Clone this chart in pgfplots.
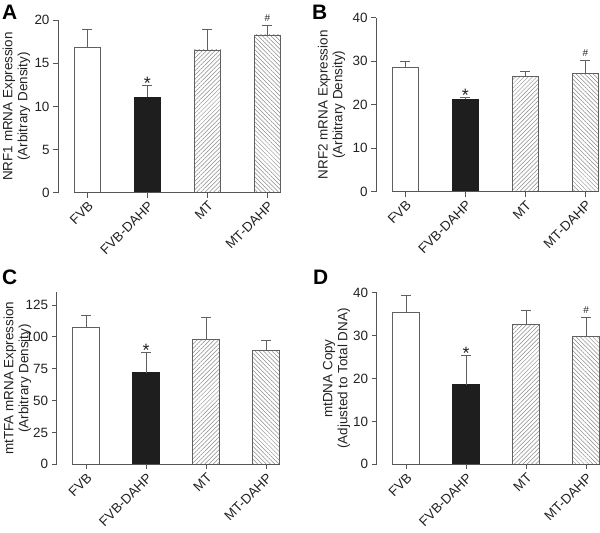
\documentclass[border=0pt]{standalone}
\usepackage{fontspec}
\setmainfont{Liberation Sans}
\usepackage{pgfplots}
\pgfplotsset{compat=1.18}
\usetikzlibrary{patterns.meta}

\definecolor{axgray}{HTML}{555555}
\definecolor{bargray}{HTML}{606060}
\definecolor{hatch}{HTML}{8A8A8A}
\definecolor{txt}{HTML}{222222}
\definecolor{barblack}{HTML}{1E1E1E}

\tikzset{
  whitebar/.style={fill=white, draw=bargray, line width=0.8bp},
  blackbar/.style={fill=barblack, draw=barblack, line width=0.8bp},
  nebar/.style={draw=bargray, line width=0.8bp, pattern={Lines[angle=45,distance=3bp,line width=0.5bp]}, pattern color=hatch},
  nwbar/.style={draw=bargray, line width=0.8bp, pattern={Lines[angle=-45,distance=3bp,line width=0.5bp]}, pattern color=hatch},
  star/.style={font=\fontsize{18}{18}\selectfont, text=txt, anchor=base, yshift=-4.5bp, inner sep=0pt},
  hash/.style={font=\fontsize{10}{10}\selectfont, text=txt, anchor=base, yshift=4bp, inner sep=0pt},
}

\pgfplotsset{
  panel/.style={
    scale only axis,
    axis x line*=bottom, axis y line*=left,
    x axis line style={draw=none},
    y axis line style={axgray, line width=0.8bp},
    tick style={axgray, line width=0.8bp},
    tick align=outside,
    major tick length=5bp,
    xtick={0,1,2,3},
    xticklabels={FVB,FVB-DAHP,MT,MT-DAHP},
    x tick label style={rotate=45, anchor=north east, inner sep=2bp},
    tick label style={font=\fontsize{13.5}{15}\selectfont, text=txt},
    /pgf/number format/assume math mode=true,
    ymin=0, xmax=3.2225,
    ybar, bar width=26.7bp, bar shift=0pt,
    ylabel style={font=\fontsize{13.5}{15}\selectfont, text=txt, align=center, anchor=center},
    error bars/y dir=plus, error bars/y explicit,
    error bars/error bar style={bargray, line width=0.8bp},
    error bars/error mark options={bargray, line width=0.8bp, mark size=5bp, rotate=90},
    clip=false,
  },
}

\begin{document}
\begin{tikzpicture}
\useasboundingbox (0,0) rectangle (600bp,-533bp);

% Panel letters
\node[anchor=north west, inner sep=0pt, font=\fontsize{21}{21}\selectfont\bfseries] at (2bp,-5bp) {A};
\node[anchor=north west, inner sep=0pt, font=\fontsize{21}{21}\selectfont\bfseries] at (312bp,-5bp) {B};
\node[anchor=north west, inner sep=0pt, font=\fontsize{21}{21}\selectfont\bfseries] at (2bp,-270bp) {C};
\node[anchor=north west, inner sep=0pt, font=\fontsize{21}{21}\selectfont\bfseries] at (313bp,-270bp) {D};

% Panel A
\begin{axis}[panel, at={(58bp,-192.5bp)}, anchor=south west,
  width=222.8bp, height=172.2bp, xmin=-0.4905, ymax=20, ytick={0,5,10,15,20},
  ylabel={NRF1 mRNA Expression\\(Arbitrary Density)},
  ylabel style={at={(axis description cs:-0.1863,0.5)}}]
\addplot[whitebar] coordinates {(0,16.8) +- (0,2.15)};
\addplot[blackbar] coordinates {(1,11.1) +- (0,1.35)};
\addplot[nebar] coordinates {(2,16.56) +- (0,2.4)};
\addplot[nwbar] coordinates {(3,18.3) +- (0,1.05)};
\draw[axgray, line width=0.8bp] (axis cs:-0.2225,0) -- (axis cs:3.2225,0);
\node[star] at (axis cs:1,12.45) {*};
\node[hash] at (axis cs:3,19.35) {\#};
\end{axis}

% Panel B
\begin{axis}[panel, at={(376bp,-191.7bp)}, anchor=south west,
  width=222.8bp, height=174bp, xmin=-0.4905, ymax=40, ytick={0,10,20,30,40},
  ylabel={NRF2 mRNA Expression\\(Arbitrary Density)},
  ylabel style={at={(axis description cs:-0.1997,0.5)}}]
\addplot[whitebar] coordinates {(0,28.6) +- (0,1.3)};
\addplot[blackbar] coordinates {(1,21.2) +- (0,0.5)};
\addplot[nebar] coordinates {(2,26.5) +- (0,1.2)};
\addplot[nwbar] coordinates {(3,27.2) +- (0,3.0)};
\draw[axgray, line width=0.8bp] (axis cs:-0.2225,0) -- (axis cs:3.2225,0);
\node[star] at (axis cs:1,21.7) {*};
\node[hash] at (axis cs:3,30.2) {\#};
\end{axis}

% Panel C
\begin{axis}[panel, at={(56.7bp,-464.3bp)}, anchor=south west,
  width=222.8bp, height=172bp, xmin=-0.4905, ymax=135, ytick={0,25,50,75,100,125},
  ylabel={mtTFA mRNA Expression\\(Arbitrary Density)},
  ylabel style={at={(axis description cs:-0.176,0.5)}}]
\addplot[whitebar] coordinates {(0,107.4) +- (0,9.8)};
\addplot[blackbar] coordinates {(1,71.9) +- (0,16.0)};
\addplot[nebar] coordinates {(2,98.1) +- (0,17.0)};
\addplot[nwbar] coordinates {(3,89.5) +- (0,7.8)};
\draw[axgray, line width=0.8bp] (axis cs:-0.2225,0) -- (axis cs:3.2225,0);
\node[star] at (axis cs:1,87.9) {*};
\end{axis}

% Panel D
\begin{axis}[panel, at={(376.7bp,-464.3bp)}, anchor=south west,
  width=222.8bp, height=171.6bp, xmin=-0.4905, ymax=40, ytick={0,10,20,30,40},
  ylabel={mtDNA Copy\\(Adjusted to Total DNA)},
  ylabel style={at={(axis description cs:-0.180,0.5)}}]
\addplot[whitebar] coordinates {(0,35.3) +- (0,4.1)};
\addplot[blackbar] coordinates {(1,18.6) +- (0,6.9)};
\addplot[nebar] coordinates {(2,32.7) +- (0,3.1)};
\addplot[nwbar] coordinates {(3,29.7) +- (0,4.6)};
\draw[axgray, line width=0.8bp] (axis cs:-0.2225,0) -- (axis cs:3.2225,0);
\node[star] at (axis cs:1,25.5) {*};
\node[hash] at (axis cs:3,34.3) {\#};
\end{axis}
\end{tikzpicture}
\end{document}
